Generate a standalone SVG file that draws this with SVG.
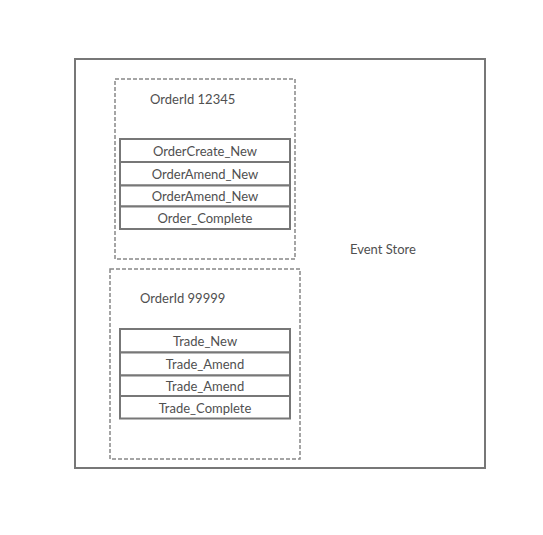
<svg xmlns="http://www.w3.org/2000/svg" width="543" height="535" viewBox="0 0 543 535">
<style>
text{font-family:Lato,"Liberation Sans",sans-serif;font-size:13px;fill:#505050}
.c{text-anchor:middle}
.outer{fill:#fff;stroke:#777;stroke-width:2}
.dash{fill:none;stroke:#888;stroke-width:1.5;stroke-dasharray:4 2}
.row{fill:#fff;stroke:#777;stroke-width:2}
</style>
<rect width="543" height="535" fill="#fff"/>
<g id="event-store">
<rect class="outer" x="75" y="59" width="410" height="409"/>
<text x="350" y="254">Event Store</text>
</g>
<g id="order-12345">
<rect class="dash" x="115" y="79" width="180" height="180"/>
<text x="150" y="104">OrderId 12345</text>
</g>
<g id="order-events">
<rect class="row" x="120" y="139" width="170" height="23"/>
<text class="c" x="205" y="156">OrderCreate_New</text>
<rect class="row" x="120" y="162" width="170" height="23.5"/>
<text class="c" x="205" y="179">OrderAmend_New</text>
<rect class="row" x="120" y="185.5" width="170" height="21"/>
<text class="c" x="205" y="201">OrderAmend_New</text>
<rect class="row" x="120" y="206.5" width="170" height="22.5"/>
<text class="c" x="205" y="223">Order_Complete</text>
</g>
<g id="order-99999">
<rect class="dash" x="110" y="269" width="190" height="190"/>
<text x="140" y="303">OrderId 99999</text>
</g>
<g id="trade-events">
<rect class="row" x="120" y="329" width="170" height="23.5"/>
<text class="c" x="205" y="346">Trade_New</text>
<rect class="row" x="120" y="352.5" width="170" height="23"/>
<text class="c" x="205" y="369">Trade_Amend</text>
<rect class="row" x="120" y="375.5" width="170" height="20.5"/>
<text class="c" x="205" y="391">Trade_Amend</text>
<rect class="row" x="120" y="396" width="170" height="22.5"/>
<text class="c" x="205" y="413">Trade_Complete</text>
</g>
<g id="connectors"></g>
</svg>
